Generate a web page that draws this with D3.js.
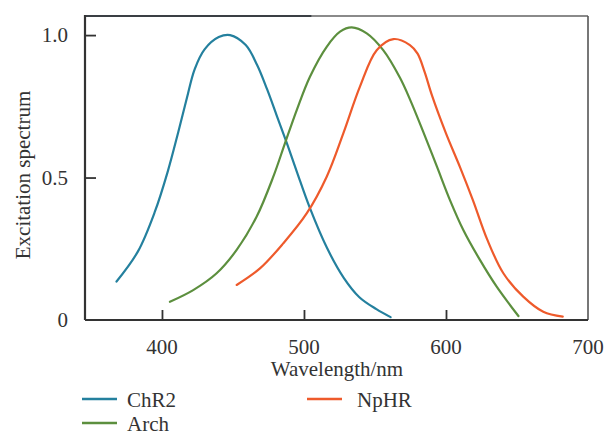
<!DOCTYPE html>
<html>
<head>
<meta charset="utf-8">
<script src="https://cdn.jsdelivr.net/npm/d3@7"></script>
<style>
  body { margin: 0; background: #fff; }
  svg text { font-family: "Liberation Serif", "Times New Roman", serif; fill: #333; }
</style>
</head>
<body>
<div id="chart"></div>
<script>
// values: wavelength (nm), normalised excitation
var chr2Wl  = [368, 383, 395, 404, 411.5, 417.5, 423, 430, 440, 448, 459, 467, 474, 481, 488, 495, 504, 516, 528, 539, 551, 561];
var chr2Val = [0.135, 0.24, 0.38, 0.52, 0.66, 0.778, 0.88, 0.95, 0.993, 1.0, 0.965, 0.895, 0.81, 0.715, 0.62, 0.52, 0.395, 0.255, 0.148, 0.08, 0.038, 0.01];

var archWl  = [405.6, 422, 438.5, 452.6, 466.7, 478.4, 486.6, 494.9, 504.2, 516, 525.4, 533.6, 544.2, 555.8, 567.6, 575, 584, 593.5, 602.8, 612.2, 623.9, 635.7, 651];
var archVal = [0.064, 0.105, 0.164, 0.246, 0.363, 0.503, 0.62, 0.737, 0.854, 0.959, 1.012, 1.027, 1.006, 0.947, 0.85, 0.77, 0.66, 0.54, 0.421, 0.316, 0.211, 0.117, 0.014];

var nphrWl  = [452.6, 469, 485.4, 501.9, 516, 527.7, 539.4, 551.2, 563, 574.6, 580, 585, 590, 600, 610, 619, 629, 640.4, 654.4, 668.5, 682.2];
var nphrVal = [0.123, 0.181, 0.269, 0.374, 0.503, 0.655, 0.819, 0.947, 0.986, 0.965, 0.935, 0.87, 0.79, 0.655, 0.535, 0.42, 0.283, 0.164, 0.082, 0.029, 0.012];

var seriesNames  = ["ChR2", "Arch", "NpHR"];
var seriesColors = ["#24809e", "#5c8f3e", "#ee5a2b"];

var xTicks = [400, 500, 600, 700];
var yTicks = [0, 0.5, 1.0];
var yTickLabels = ["0", "0.5", "1.0"];

var W = 605, H = 433;
var plotL = 85, plotR = 588, plotT = 16, plotB = 320;
var fs = 21;

var svg = d3.select("#chart").append("svg")
  .attr("width", W).attr("height", H);

var x = d3.scaleLinear().domain([345.8, 700]).range([plotL, plotR]);
var y = d3.scaleLinear().domain([0, 1.067]).range([plotB, plotT]);

// frame: top border is dark on the left part, lighter on the right
svg.append("line").attr("x1", plotL).attr("x2", x(505.5)).attr("y1", plotT).attr("y2", plotT)
  .attr("stroke", "#3a3f44").attr("stroke-width", 2.2);
svg.append("line").attr("x1", x(505.5)).attr("x2", plotR).attr("y1", plotT).attr("y2", plotT)
  .attr("stroke", "#8a8a8a").attr("stroke-width", 2.2);
svg.append("line").attr("x1", plotR).attr("x2", plotR).attr("y1", plotT).attr("y2", plotB)
  .attr("stroke", "#555").attr("stroke-width", 1.6);

// axes with inward ticks
var xAxis = svg.append("g").attr("transform", "translate(0," + plotB + ")")
  .call(d3.axisTop(x).tickValues(xTicks.slice(0, 3)).tickSize(10).tickFormat(""));
var yAxis = svg.append("g").attr("transform", "translate(" + plotL + ",0)")
  .call(d3.axisRight(y).tickValues(yTicks.slice(1)).tickSize(11).tickFormat(""));
[xAxis, yAxis].forEach(function (g) {
  g.select(".domain").attr("stroke", "#333").attr("stroke-width", 2.2);
  g.selectAll(".tick line").attr("stroke", "#333").attr("stroke-width", 1.8);
});
xAxis.select(".domain").attr("d", "M" + plotL + ",0H" + plotR);
yAxis.select(".domain").attr("d", "M0," + (plotT - 1) + "V" + plotB);

// tick labels
svg.selectAll(".xlab").data(xTicks).enter().append("text")
  .attr("x", function (d) { return x(d); })
  .attr("y", 354)
  .attr("text-anchor", "middle")
  .attr("font-size", fs)
  .text(function (d) { return d; });

svg.selectAll(".ylab").data(yTicks).enter().append("text")
  .attr("x", 68)
  .attr("y", function (d) { return y(d) + 7; })
  .attr("text-anchor", "end")
  .attr("font-size", fs)
  .text(function (d, i) { return yTickLabels[i]; });

svg.append("text")
  .attr("x", 337).attr("y", 376)
  .attr("text-anchor", "middle").attr("font-size", fs)
  .text("Wavelength/nm");

svg.append("text")
  .attr("transform", "translate(30,175) rotate(-90)")
  .attr("text-anchor", "middle").attr("font-size", fs)
  .text("Excitation spectrum");

// curves
var line = d3.line()
  .x(function (d) { return x(d[0]); })
  .y(function (d) { return y(d[1]); })
  .curve(d3.curveCatmullRom.alpha(0.5));

var series = [
  d3.zip(chr2Wl, chr2Val),
  d3.zip(archWl, archVal),
  d3.zip(nphrWl, nphrVal)
];

series.forEach(function (pts, i) {
  svg.append("path")
    .datum(pts)
    .attr("fill", "none")
    .attr("stroke", seriesColors[i])
    .attr("stroke-width", 2.2)
    .attr("stroke-linecap", "round")
    .attr("d", line);
});

// legend
var legendPos = [[82, 399], [82, 423], [307, 399]];
seriesNames.forEach(function (name, i) {
  var p = legendPos[i];
  svg.append("line")
    .attr("x1", p[0]).attr("x2", p[0] + 35)
    .attr("y1", p[1]).attr("y2", p[1])
    .attr("stroke", seriesColors[i]).attr("stroke-width", 2.5);
  svg.append("text")
    .attr("x", p[0] + (i === 2 ? 50 : 45))
    .attr("y", p[1] + 7.5)
    .attr("font-size", fs)
    .text(name);
});
</script>
</body>
</html>
